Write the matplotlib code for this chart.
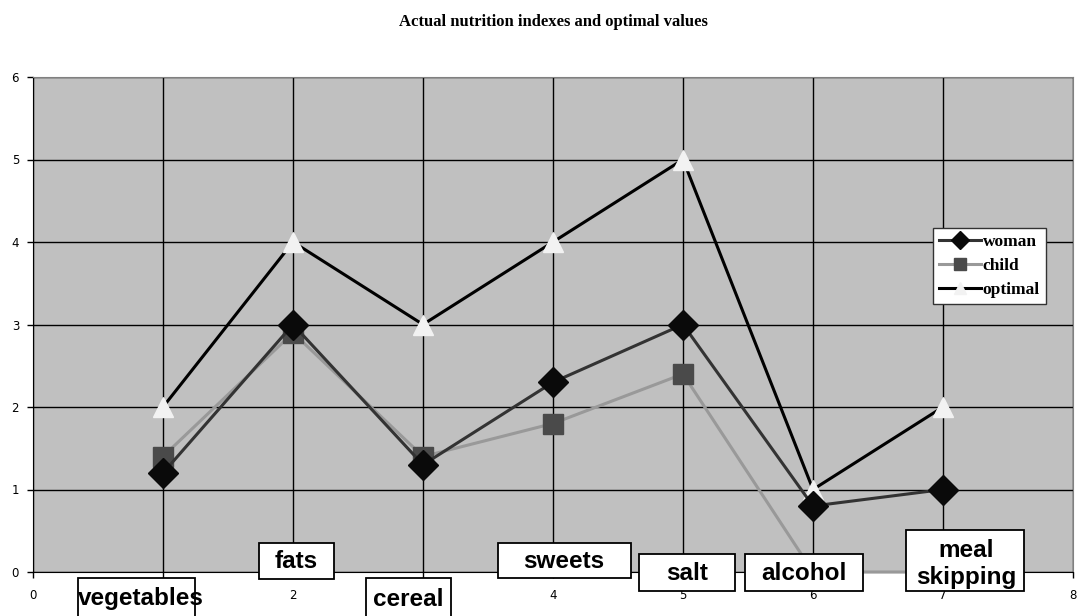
import matplotlib
matplotlib.use("Agg")
import matplotlib.pyplot as plt
from matplotlib.patches import Rectangle

title = "Actual nutrition indexes and optimal values"
categories = ["vegetables", "fats", "cereal", "sweets", "salt", "alcohol", "meal\nskipping"]
x_pos = [1, 2, 3, 4, 5, 6, 7]
woman = [1.2, 3.0, 1.3, 2.3, 3.0, 0.8, 1.0]
child = [1.4, 2.9, 1.4, 1.8, 2.4, 0.0, 0.0]
optimal = [2, 4, 3, 4, 5, 1, 2]
x_ticks = [0, 1, 2, 3, 4, 5, 6, 7, 8]
x_tick_labels = ["0", "", "2", "", "4", "5", "6", "7", "8"]  # 1 and 3 hidden by boxes
y_ticks = [0, 1, 2, 3, 4, 5, 6]

# label boxes in figure pixels: left, top, right, bottom; text centre
label_boxes = [(78, 578, 195, 618), (259, 543, 334, 579), (366, 578, 451, 618),
               (498, 543, 631, 578), (639, 554, 735, 591), (745, 554, 863, 591),
               (906, 530, 1024, 591)]
label_centres = [(141, 599), (296, 562), (408, 599), (564, 562), (687, 574),
                 (804, 573), (966, 564)]

W, H = 1078, 616
fig = plt.figure(figsize=(W / 100, H / 100), dpi=100)
ax = fig.add_axes([33 / W, 1 - 572 / H, (1073 - 33) / W, (572 - 77) / H])
ax.set_facecolor("#c0c0c0")
ax.set_xlim(0, 8)
ax.set_ylim(0, 6)
ax.set_xticks(x_ticks)
ax.set_xticklabels(x_tick_labels)
ax.set_yticks(y_ticks)
ax.grid(True, color="black", linewidth=1.0)
ax.set_axisbelow(True)
for s in ["top", "right"]:
    ax.spines[s].set_color("#808080")
for s in ["left", "bottom"]:
    ax.spines[s].set_color("black")
ax.tick_params(axis="both", labelsize=8.5, length=4, width=1, colors="black", pad=8)
ax.tick_params(axis="y", pad=6)

ax.plot(x_pos, optimal, color="black", lw=2.2, marker="^", ms=14,
        mfc="#f2f2f2", mec="#f2f2f2", label="optimal", zorder=3, clip_on=False)
ax.plot(x_pos, child, color="#999999", lw=2.2, marker="s", ms=15,
        mfc="#4a4a4a", mec="#4a4a4a", label="child", zorder=4, clip_on=False)
ax.plot(x_pos, woman, color="#333333", lw=2.2, marker="D", ms=15,
        mfc="#0a0a0a", mec="#0a0a0a", label="woman", zorder=5, clip_on=False)

handles, labels = ax.get_legend_handles_labels()
order = [2, 1, 0]
leg = ax.legend([handles[i] for i in order], [labels[i] for i in order],
                loc="upper left",
                bbox_to_anchor=((933 - 33) / (1073 - 33), (572 - 228) / (572 - 77)),
                prop={"family": "Liberation Serif", "weight": "bold", "size": 12.5},
                frameon=True, fancybox=False, edgecolor="#333333", framealpha=1,
                markerscale=0.6, handlelength=2.4, handletextpad=0.1, borderpad=0.35,
                labelspacing=0.45, borderaxespad=0)
leg.get_frame().set_linewidth(1.0)

for txt, (l, t, r, b), (cx, cy) in zip(categories, label_boxes, label_centres):
    fig.patches.append(Rectangle((l / W, 1 - b / H), (r - l) / W, (b - t) / H,
                                 transform=fig.transFigure, fc="white", ec="black",
                                 lw=1.3, zorder=9))
    fig.text(cx / W, 1 - cy / H, txt, ha="center", va="center", fontsize=17.5,
             fontweight="bold", family="Liberation Sans", linespacing=1.25,
             zorder=10)

fig.text(553 / W, 1 - 22 / H, title, ha="center", va="center", fontsize=12,
         fontweight="bold", family="Liberation Serif")

fig.savefig("out.png", dpi=100)
